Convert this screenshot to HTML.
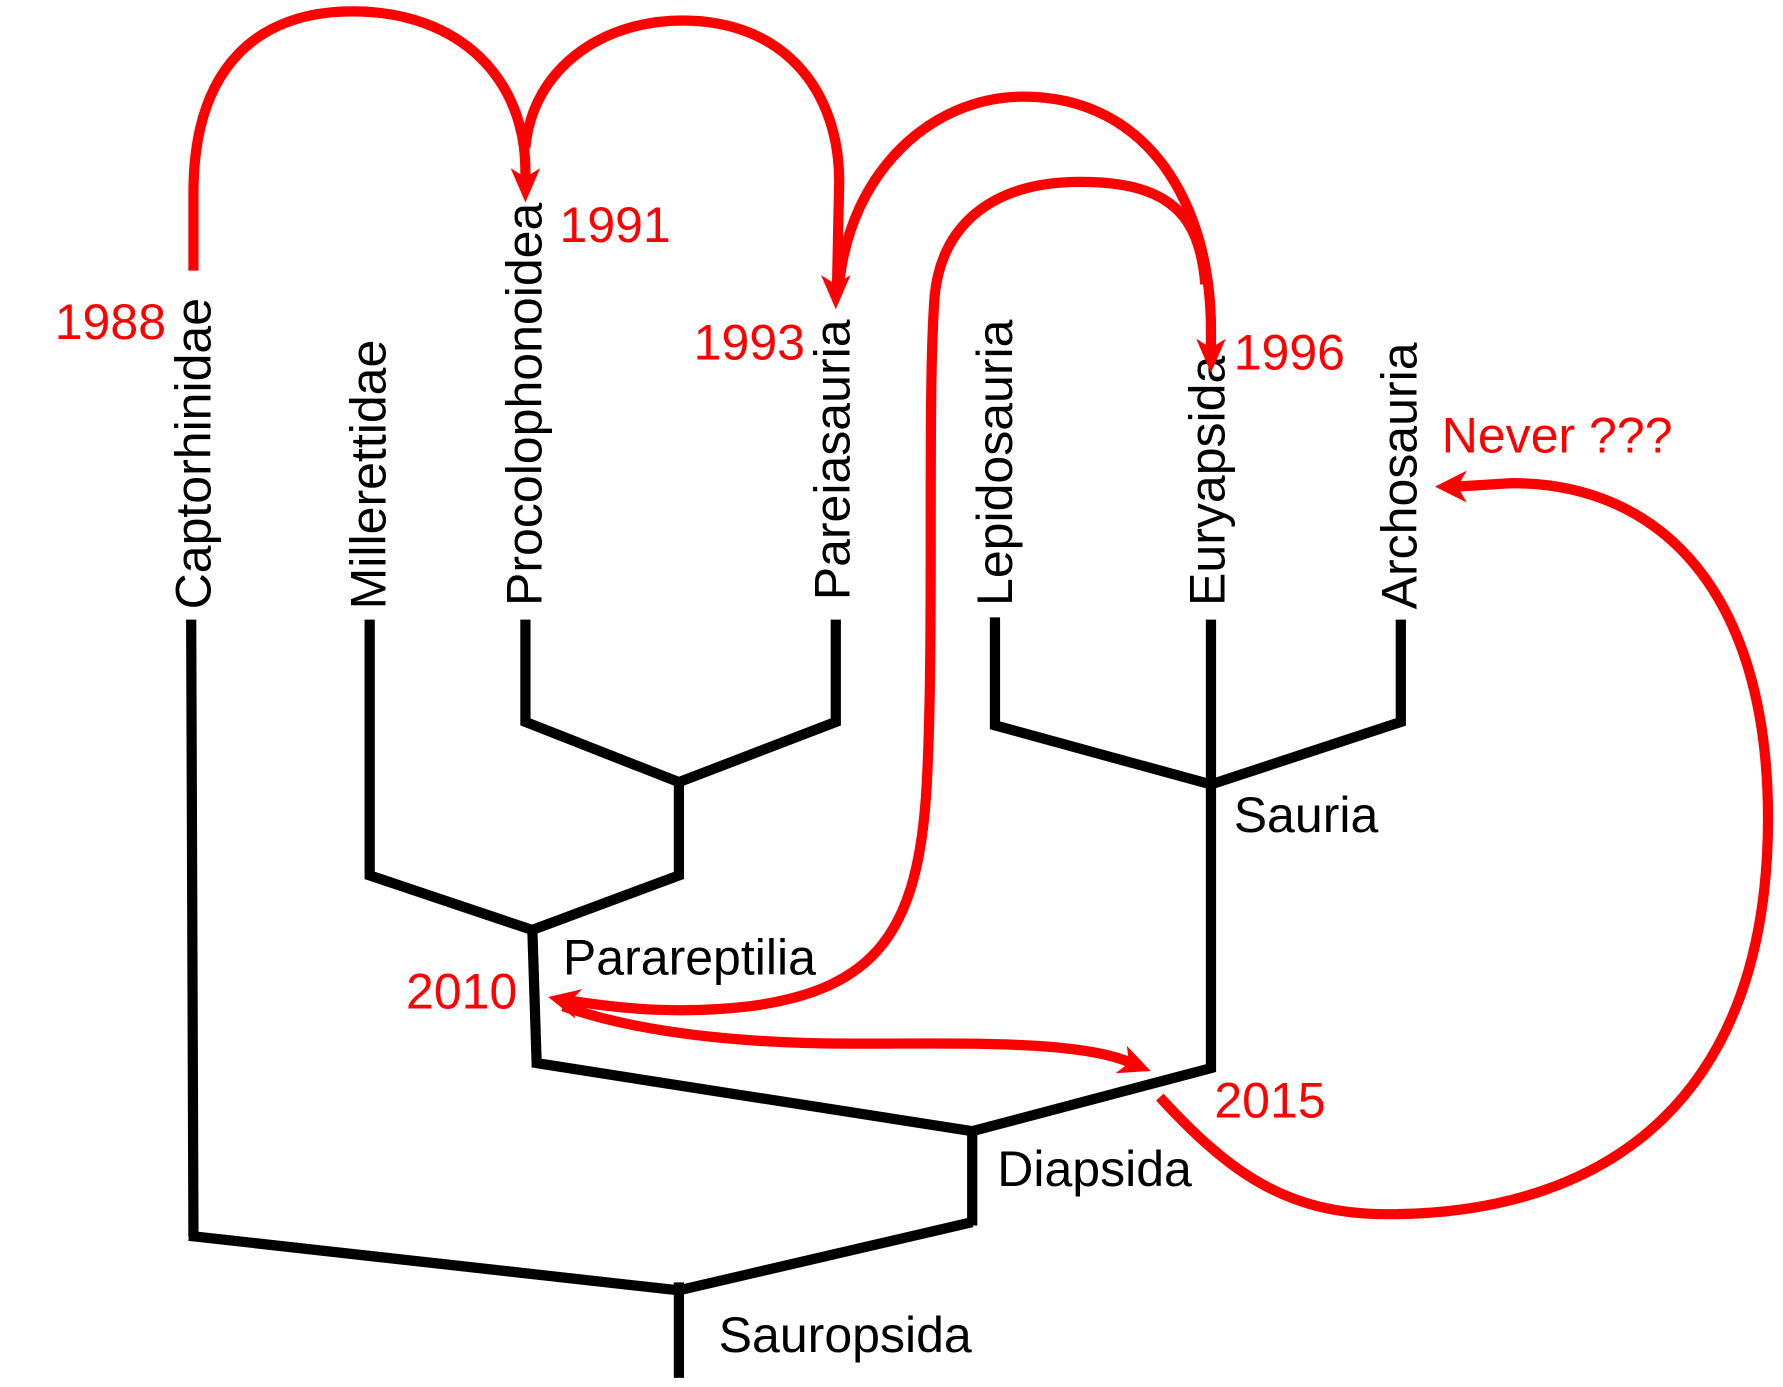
<!DOCTYPE html>
<html><head><meta charset="utf-8"><style>html,body{margin:0;padding:0;background:#fff}svg{display:block}</style></head>
<body>
<svg width="1783" height="1387" viewBox="0 0 1568 1220" xmlns="http://www.w3.org/2000/svg" font-family="'Liberation Sans', Arial, sans-serif">
<g stroke="#000" stroke-width="9" fill="none" stroke-linejoin="miter">
<line x1="168" y1="545" x2="170" y2="1088"/>
<polyline points="166,1087 597,1135 855,1075"/>
<line x1="597" y1="1128" x2="597" y2="1212"/>
<line x1="855" y1="993" x2="855" y2="1078"/>
<polyline points="471,935 855,995 1067,939"/>
<line x1="468" y1="815" x2="472" y2="939"/>
<polyline points="325,545 325,770 468,818 597,770 597,686"/>
<polyline points="462,545 462,635 597,688 735,635 735,545"/>
<line x1="1065" y1="545" x2="1065" y2="943"/>
<polyline points="875,543 875,638 1065,690 1232,635 1232,545"/>
</g>
<g fill="#000" font-size="44" dominant-baseline="central">
<text transform="translate(170,536) rotate(-90)">Captorhinidae</text>
<text transform="translate(324,536) rotate(-90)">Millerettidae</text>
<text transform="translate(461,533) rotate(-90)">Procolophonoidea</text>
<text transform="translate(732,528) rotate(-90)">Pareiasauria</text>
<text transform="translate(875,533) rotate(-90)">Lepidosauria</text>
<text transform="translate(1062,533) rotate(-90)">Euryapsida</text>
<text transform="translate(1231,536) rotate(-90)">Archosauria</text>
</g>
<g fill="#000" font-size="44">
<text x="1085" y="732">Sauria</text>
<text x="495" y="857">Parareptilia</text>
<text x="877" y="1043">Diapsida</text>
<text x="632" y="1189">Sauropsida</text>
</g>
<g fill="#ff0000" font-size="44">
<text x="48" y="298">1988</text>
<text x="492" y="213">1991</text>
<text x="610" y="316">1993</text>
<text x="1085" y="325">1996</text>
<text x="1268" y="398">Never ???</text>
<text x="357" y="887">2010</text>
<text x="1068" y="983">2015</text>
</g>
<g stroke="#ff0000" stroke-width="9" fill="none" stroke-linecap="butt">
<path d="M170,238 L170,170 C170,55 230,10 310,10 C405,10 462,70 462,150 L462,160"/>
<path d="M462,130 C468,60 530,18 600,18 C690,18 738,80 738,160 L736,255"/>
<path d="M738,250 C748,150 820,85 900,85 C1010,85 1065,180 1065,290 L1065,312"/>
<path d="M1060,250 C1055,190 1030,160 950,160 C870,160 828,200 822,260 C815,350 822,560 815,690 C808,820 770,870 660,885 C600,892 550,888 500,880"/>
<path d="M495,885 C560,908 650,918 750,918 C850,918 950,915 995,935"/>
<path d="M1020,965 C1080,1030 1130,1068 1220,1068 C1420,1068 1555,960 1555,720 C1555,520 1460,425 1330,425 L1280,428"/>
</g>
<g fill="#ff0000">
<polygon points="462,178 449,148 462,156 475,148"/>
<polygon points="735,272 722,242 735,250 748,242"/>
<polygon points="1065,328 1052,298 1065,306 1078,298"/>
<polygon points="482,877 512,870 501,881 506,896"/>
<polygon points="1012,942 981,944 993,935 991,920"/>
<polygon points="1262,428 1290,414 1282,428 1290,442"/>
</g>
</svg>
</body></html>
